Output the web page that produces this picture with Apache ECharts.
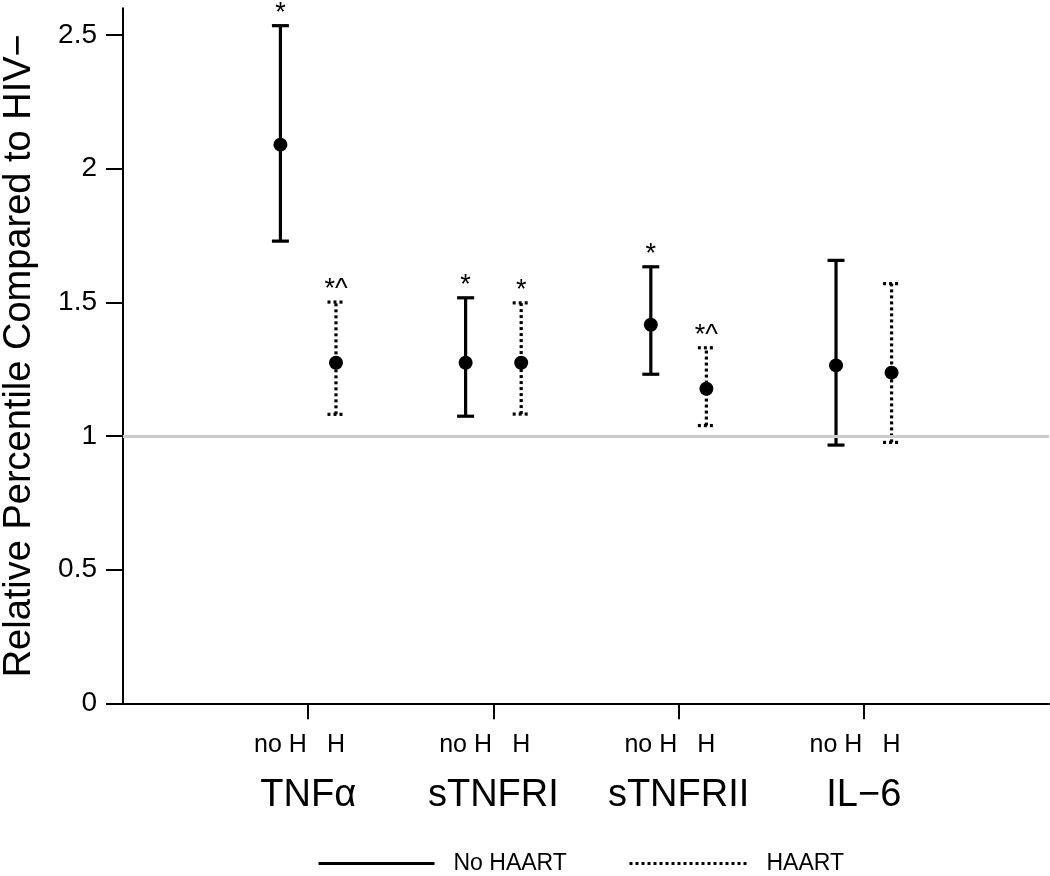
<!DOCTYPE html>
<html><head><meta charset="utf-8">
<script src="https://cdn.jsdelivr.net/npm/echarts@6/dist/echarts.min.js"></script>
<style>html,body{margin:0;padding:0;background:#fff}#c{width:1050px;height:876px}</style>
</head><body><div id="c"></div>
<script>
const groups = ['TNFα', 'sTNFRI', 'sTNFRII', 'IL−6'];
const subLabels = ['no H', 'H'];
const noHaartMean = [2.090, 1.274, 1.416, 1.264];
const noHaartLow  = [1.729, 1.074, 1.231, 0.966];
const noHaartHigh = [2.535, 1.517, 1.633, 1.657];
const haartMean = [1.274, 1.274, 1.177, 1.237];
const haartLow  = [1.081, 1.082, 1.039, 0.976];
const haartHigh = [1.501, 1.498, 1.330, 1.570];
const noHaartMark = ['*', '*', '*', ''];
const haartMark = ['*^', '*', '*^', ''];
const yTicks = [0, 0.5, 1, 1.5, 2, 2.5];
const refValue = 1;
const offset = 0.15;

const FONT = 'Liberation Sans, Arial, Helvetica, sans-serif';
const groupPos = groups.map((g, i) => i + 1);
const subPos = [];
groupPos.forEach(p => { subPos.push(p - offset); subPos.push(p + offset); });

function errSeries(name, low, high, marks, sign, dashed) {
  return {
    type: 'custom', name: name, z: 3,
    data: groups.map((g, i) => [i + 1 + sign * offset, low[i], high[i]]),
    encode: { x: 0, y: [1, 2] },
    renderItem: function (params, api) {
      const x = api.value(0);
      const p1 = api.coord([x, api.value(1)]);
      const p2 = api.coord([x, api.value(2)]);
      const hw = 8.5;
      const st = { stroke: '#000', lineWidth: 3.2, lineDash: dashed ? [3, 3] : null, fill: null };
      const mark = marks[params.dataIndex];
      return {
        type: 'group', children: [
          { type: 'line', shape: { x1: p1[0], y1: p1[1], x2: p2[0], y2: p2[1] }, style: st },
          { type: 'line', shape: { x1: p1[0] - hw, y1: p1[1], x2: p1[0] + hw, y2: p1[1] }, style: st },
          { type: 'line', shape: { x1: p2[0] - hw, y1: p2[1], x2: p2[0] + hw, y2: p2[1] }, style: st },
          { type: 'text', x: p2[0], y: p2[1] + 1, style: { text: mark, align: 'center', verticalAlign: 'bottom', font: '27px ' + FONT, fill: '#000' } }
        ]
      };
    }
  };
}

const legendCommon = { top: 847, itemHeight: 20, itemStyle: { opacity: 0 },
  lineStyle: { width: 3, opacity: 1 }, textStyle: { fontSize: 23, color: '#000', padding: [0, 0, 0, 14] } };

const chart = echarts.init(document.getElementById('c'));
chart.setOption({
  animation: false,
  backgroundColor: '#fff',
  textStyle: { fontFamily: FONT, color: '#000' },
  grid: { left: 123, right: 1, top: 8.3, bottom: 172.7, containLabel: false, outerBoundsMode: 'none' },
  legend: [
    Object.assign({ data: ['No HAART'], left: 312, itemWidth: 116 }, legendCommon),
    Object.assign({ data: ['HAART'], left: 623, itemWidth: 118 }, legendCommon)
  ],
  xAxis: [
    { type: 'value', min: 0, max: 5,
      axisLine: { show: true, onZero: false, lineStyle: { color: '#000', width: 2 } },
      axisTick: { show: true, customValues: groupPos, length: 16, lineStyle: { color: '#000', width: 2 } },
      axisLabel: { customValues: groupPos, formatter: v => groups[Math.round(v) - 1], fontSize: 38, color: '#000', margin: 73 },
      splitLine: { show: false } },
    { type: 'value', min: 0, max: 5, position: 'bottom',
      axisLine: { show: false }, axisTick: { show: false },
      axisLabel: { customValues: subPos, formatter: v => (v < Math.round(v) ? subLabels[0] : subLabels[1]), fontSize: 25, color: '#000', margin: 29 },
      splitLine: { show: false } }
  ],
  yAxis: {
    type: 'value', min: 0, max: 2.6,
    name: 'Relative Percentile Compared to HIV−', nameLocation: 'middle', nameRotate: 90, nameGap: 84,
    nameTextStyle: { fontSize: 38, color: '#000' },
    axisLine: { show: true, lineStyle: { color: '#000', width: 2 } },
    axisTick: { show: true, customValues: yTicks, length: 17, lineStyle: { color: '#000', width: 2 } },
    axisLabel: { customValues: yTicks, fontSize: 28, color: '#000', margin: 26, formatter: v => String(v) },
    splitLine: { show: false }
  },
  series: [
    { type: 'line', name: 'ref', data: [], z: 1, silent: true,
      markLine: { silent: true, symbol: 'none', label: { show: false },
        lineStyle: { color: '#cccccc', width: 3, type: 'solid' }, data: [{ yAxis: refValue }] } },
    { type: 'line', name: 'No HAART', data: [], symbol: 'none', lineStyle: { color: '#000', width: 3, type: 'solid' }, itemStyle: { color: '#000' } },
    { type: 'line', name: 'HAART', data: [], symbol: 'none', lineStyle: { color: '#000', width: 3, type: [3, 3] }, itemStyle: { color: '#000' } },
    errSeries('noH-err', noHaartLow, noHaartHigh, noHaartMark, -1, false),
    errSeries('H-err', haartLow, haartHigh, haartMark, 1, true),
    { type: 'scatter', name: 'noH-mean', z: 4, symbol: 'circle', symbolSize: 14, itemStyle: { color: '#000', opacity: 1 },
      data: groups.map((g, i) => [i + 1 - offset, noHaartMean[i]]) },
    { type: 'scatter', name: 'H-mean', z: 4, symbol: 'circle', symbolSize: 14, itemStyle: { color: '#000', opacity: 1 },
      data: groups.map((g, i) => [i + 1 + offset, haartMean[i]]) }
  ]
});
</script></body></html>
